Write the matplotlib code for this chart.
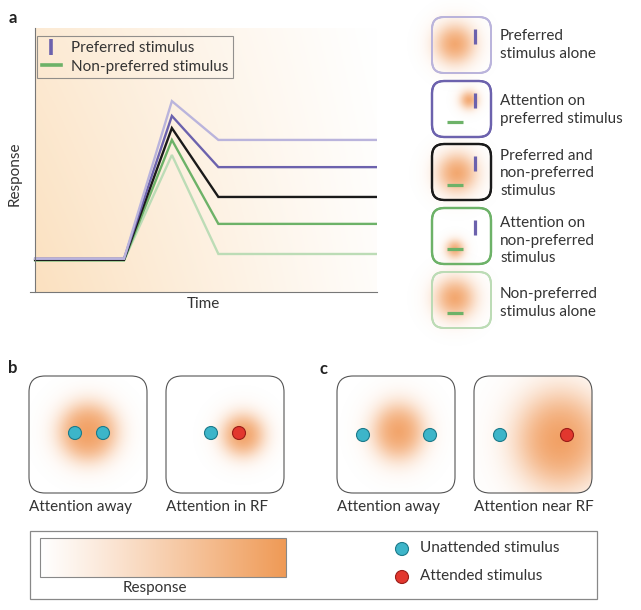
import numpy as np
import matplotlib.pyplot as plt
from matplotlib.patches import FancyBboxPatch, Circle, Rectangle
from matplotlib.lines import Line2D

plt.rcParams['font.family'] = ['Lato', 'DejaVu Sans']

# ---- panel a data ----
time = [0, 2.6, 4.0, 5.36, 10]
pref_alone = [0.126, 0.126, 0.723, 0.576, 0.576]
att_pref = [0.126, 0.126, 0.667, 0.473, 0.473]
both = [0.122, 0.122, 0.621, 0.360, 0.360]
att_nonpref = [0.12, 0.12, 0.576, 0.258, 0.258]
nonpref_alone = [0.12, 0.12, 0.519, 0.144, 0.144]

conditions = [
    ("Non-preferred\nstimulus alone", nonpref_alone, '#bcdcb6'),
    ("Attention on\nnon-preferred\nstimulus", att_nonpref, '#6db268'),
    ("Preferred and\nnon-preferred\nstimulus", both, '#1a1a1a'),
    ("Attention on\npreferred stimulus", att_pref, '#6c62ad'),
    ("Preferred\nstimulus alone", pref_alone, '#bab4dc'),
]

legend_labels = ["Preferred stimulus", "Non-preferred stimulus"]
captions_b = ["Attention away", "Attention in RF"]
captions_c = ["Attention away", "Attention near RF"]
dot_labels = ["Unattended stimulus", "Attended stimulus"]

PURPLE = '#6c62ad'
GREEN = '#6db268'
ORANGE = np.array([240, 148, 80]) / 255
CYAN = '#3db5c9'
RED = '#e2372e'
TXT = '#333333'
FS = 11

fig = plt.figure(figsize=(6.41, 6.10), dpi=100)
ov = fig.add_axes([0, 0, 1, 1])
ov.set_xlim(0, 641)
ov.set_ylim(610, 0)
ov.axis('off')


def blob(cx, cy, R, w, peak=0.9, clip=None, sx=1.0, sy=1.0):
    half = (R + 6 * w) * max(sx, sy)
    n = int(2 * half) + 1
    xs = np.linspace(cx - half, cx + half, n)
    ys = np.linspace(cy - half, cy + half, n)
    X, Y = np.meshgrid(xs, ys)
    r = np.hypot((X - cx) / sx, (Y - cy) / sy)
    a = peak / (1 + np.exp((r - R) / w))
    img = np.zeros((n, n, 4))
    img[..., :3] = ORANGE
    img[..., 3] = a
    im = ov.imshow(img, extent=(cx - half, cx + half, cy + half, cy - half),
                   origin='upper', interpolation='bilinear', zorder=1, aspect='auto')
    if clip is not None:
        im.set_clip_path(clip)


def rbox(x0, y0, w, h, ec, lw, rs, fc='none', z=3):
    p = FancyBboxPatch((x0, y0), w, h, boxstyle='round,pad=0,rounding_size=%g' % rs,
                       fc=fc, ec=ec, lw=lw, zorder=z)
    ov.add_patch(p)
    return p


def dot(x, y, c, ec):
    ov.add_patch(Circle((x, y), 6.5, fc=c, ec=ec, lw=0.8, zorder=4))


# ---- panel a chart ----
ax = fig.add_axes([30 / 641, (610 - 292) / 610, 347 / 641, 264 / 610])
gx = np.linspace(0, 1, 200)
gy = np.linspace(0, 1, 120)
GX, GY = np.meshgrid(gx, gy)
f = 0.5 * (1 - GX) ** 1.1 * (1 - 0.25 * GY) + 0.05 * (1 - GY)
tint = np.array([248, 200, 140]) / 255
bg = np.ones((120, 200, 3)) * (1 - f[..., None]) + tint * f[..., None]
ax.imshow(bg, extent=(0, 10, 0, 1), origin='lower', aspect='auto', zorder=0)
for label, vals, col in conditions:
    ax.plot(time, vals, color=col, lw=1.7, solid_joinstyle='miter', zorder=2)
ax.set_xlim(-0.15, 10)
ax.set_ylim(0, 1)
ax.spines['left'].set_position(('data', 0))
for s in ['top', 'right']:
    ax.spines[s].set_visible(False)
for s in ['left', 'bottom']:
    ax.spines[s].set_color('#777777')
    ax.spines[s].set_linewidth(0.8)
ax.set_xticks([])
ax.set_yticks([])
ax.patch.set_alpha(0)
handles = [Line2D([], [], color=PURPLE, marker='|', ls='None', ms=12, mew=2.6),
           Line2D([], [], color=GREEN, lw=2.6)]
leg = ax.legend(handles, legend_labels, loc='upper left', bbox_to_anchor=(0.02, 0.968),
                borderaxespad=0, fancybox=False, edgecolor='#777777', facecolor='none',
                fontsize=FS, handlelength=1.3, handletextpad=0.6, borderpad=0.3,
                labelspacing=0.3, numpoints=1, labelcolor=TXT)
leg.get_frame().set_linewidth(0.8)

ov.text(13, 18, 'a', fontsize=12, fontweight='bold', color='#222', ha='center', va='center')
ov.text(15, 174, 'Response', rotation=90, fontsize=FS, color=TXT, ha='center', va='center')
ov.text(203, 304, 'Time', fontsize=FS, color=TXT, ha='center', va='center')

# ---- icons on the right ----
icon_top = [17, 81, 144, 208, 272]
icon_blob = [(455, 44, 16, 6), (469, 100, 7, 3), (457, 173, 16, 6), (455, 249, 7, 3), (455, 298, 16, 6)]
icon_text_y = [36, 101, 156, 223, 294]
for i, (label, vals, col) in enumerate(reversed(conditions)):
    y0 = icon_top[i]
    lw = 1.6 if i in (1, 2, 3) else 1.4
    rbox(432, y0, 59, 56, col, lw, 12, fc='white', z=0.5)
    bx, by, R, w = icon_blob[i]
    blob(bx, by, R, w, peak=0.88)
    rbox(432, y0, 59, 56, col, lw, 12, z=3)
    if i != 4:
        ov.plot([475, 475], [y0 + 12, y0 + 27], color=PURPLE, lw=2.3, zorder=4, solid_capstyle='butt')
    if i != 0:
        ov.plot([447, 463], [y0 + 41, y0 + 41], color=GREEN, lw=2.3, zorder=4, solid_capstyle='butt')
    for k, line in enumerate(label.split('\n')):
        ov.text(500, icon_text_y[i] + 17.5 * k, line, fontsize=FS, color=TXT, va='center', ha='left')

# ---- panels b and c ----
ov.text(13, 368, 'b', fontsize=12, fontweight='bold', color='#222', ha='center', va='center')
ov.text(324, 369, 'c', fontsize=12, fontweight='bold', color='#222', ha='center', va='center')
box_x = [29, 166, 337, 474]
captions = captions_b + captions_c
for bxx, cap in zip(box_x, captions):
    ov.text(bxx, 507, cap, fontsize=FS, color=TXT, ha='left', va='center')

clips = [rbox(x, 376, 118, 117, '#555555', 0.8, 16) for x in box_x]
blob(88, 432, 26, 7, peak=0.9, clip=clips[0])
blob(243, 435, 18, 6, peak=0.9, clip=clips[1])
blob(398, 432, 22, 7, peak=0.88, clip=clips[2], sy=1.1)
blob(560, 440, 38, 12, peak=0.92, clip=clips[3], sy=1.1)

dot(75, 433, CYAN, '#1d7a8a')
dot(103, 433, CYAN, '#1d7a8a')
dot(211, 433, CYAN, '#1d7a8a')
dot(239, 433, RED, '#9a1d18')
dot(363, 435, CYAN, '#1d7a8a')
dot(430, 435, CYAN, '#1d7a8a')
dot(500, 435, CYAN, '#1d7a8a')
dot(567, 435, RED, '#9a1d18')

# ---- bottom legend ----
ov.add_patch(Rectangle((30, 531), 567, 68, fc='none', ec='#888888', lw=0.9, zorder=3))
cb = np.linspace(0, 1, 256) ** 1.1
cbar = np.ones((2, 256, 3)) * (1 - cb[None, :, None]) + np.array([239, 154, 86]) / 255 * cb[None, :, None]
ov.imshow(cbar, extent=(40, 286, 577, 538), origin='upper', aspect='auto', zorder=2)
ov.add_patch(Rectangle((40, 538), 246, 39, fc='none', ec='#888888', lw=0.8, zorder=3))
ov.text(155, 588, 'Response', fontsize=FS, color=TXT, ha='center', va='center')
dot(402, 549, CYAN, '#1d7a8a')
dot(402, 577, RED, '#9a1d18')
ov.text(420, 548, dot_labels[0], fontsize=FS, color=TXT, ha='left', va='center')
ov.text(420, 576, dot_labels[1], fontsize=FS, color=TXT, ha='left', va='center')

ov.set_xlim(0, 641)
ov.set_ylim(610, 0)
fig.savefig('out.png', dpi=100)
